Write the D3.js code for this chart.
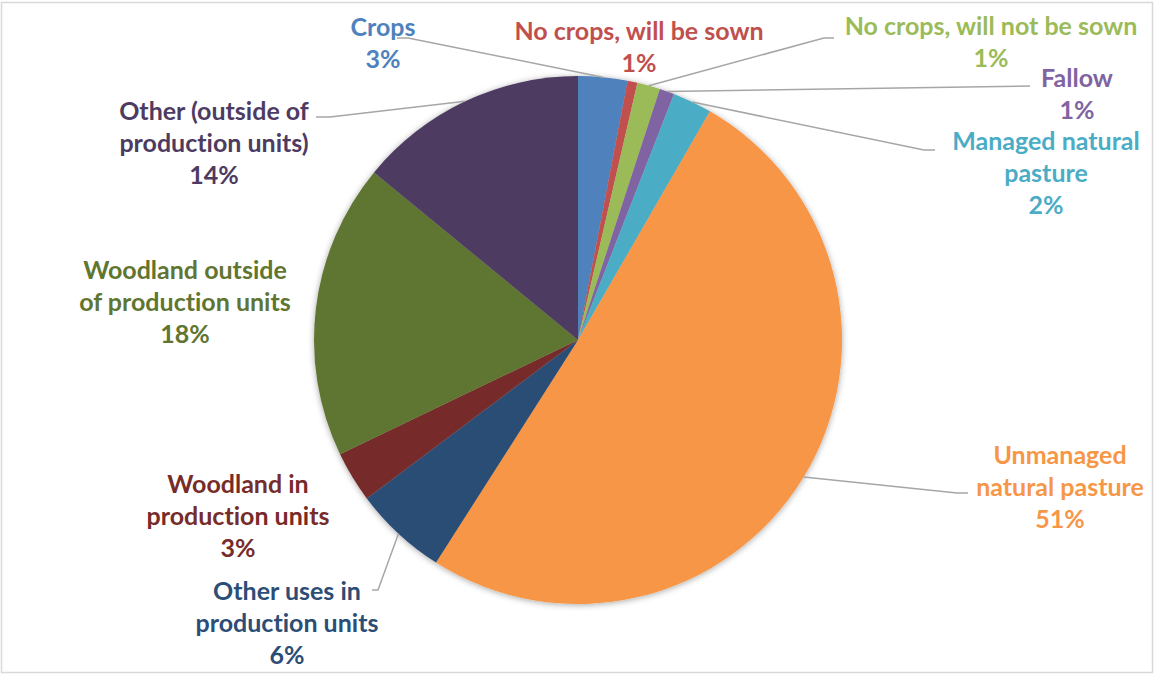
<!DOCTYPE html>
<html>
<head>
<meta charset="utf-8">
<script src="https://cdn.jsdelivr.net/npm/d3@7"></script>
<style>
  html, body { margin: 0; padding: 0; background: #fff; }
  svg { display: block; }
  .lbl { font-family: Lato, "Open Sans", sans-serif; font-weight: 700; font-variant-ligatures: none; }
</style>
</head>
<body>
<svg id="chart" width="1154" height="675"></svg>
<script>
// Land use shares (percent of total area)
const categories = [
  "Crops",
  "No crops, will be sown",
  "No crops, will not be sown",
  "Fallow",
  "Managed natural pasture",
  "Unmanaged natural pasture",
  "Other uses in production units",
  "Woodland in production units",
  "Woodland outside of production units",
  "Other (outside of production units)"
];
const shares = [3.0, 0.6, 1.4, 0.9, 2.4, 50.5, 5.7, 3.1, 18.0, 14.0];
const sliceColors = [
  "#4F81BD", "#C0504D", "#9BBB59", "#8064A2", "#4BACC6",
  "#F79646", "#2C4D75", "#772C2A", "#5F7530", "#4D3B62"
];

// How each label is broken into lines
const labelLines = [
  ["Crops"],
  ["No crops, will be sown"],
  ["No crops, will not be sown"],
  ["Fallow"],
  ["Managed natural", "pasture"],
  ["Unmanaged", "natural pasture"],
  ["Other uses in", "production units"],
  ["Woodland in", "production units"],
  ["Woodland outside", "of production units"],
  ["Other (outside of", "production units)"]
];

// Label placement: centre x, first line centre y, and optional leader elbow/end
const labelLayout = [
  { x: 383, y: 27, elbow: [408, 38], end: [397, 38] },
  { x: 639, y: 31 },
  { x: 991, y: 26, elbow: [824, 38], end: [834, 38] },
  { x: 1077, y: 78, elbow: [1030, 86], end: [1030, 86] },
  { x: 1046, y: 141, elbow: [924, 150], end: [935, 150] },
  { x: 1060, y: 455, elbow: [957, 493], end: [968, 493] },
  { x: 287, y: 591, elbow: [378, 590], end: [372, 590] },
  { x: 238, y: 484 },
  { x: 185, y: 270 },
  { x: 214, y: 111, elbow: [330, 117], end: [316, 117] }
];

const W = 1154, H = 675;
const cx = 578, cy = 340, R = 264;
const lineGap = 32;
const fontSize = 25;

const svg = d3.select("#chart");

// chart frame
svg.append("rect")
  .attr("x", 1.5).attr("y", 2.5)
  .attr("width", 1151).attr("height", 670)
  .attr("fill", "#fff")
  .attr("stroke", "#d9d9d9")
  .attr("stroke-width", 1.5);

const defs = svg.append("defs");
const shadow = defs.append("filter")
  .attr("id", "pieShadow")
  .attr("x", "-10%").attr("y", "-10%")
  .attr("width", "120%").attr("height", "120%");
shadow.append("feDropShadow")
  .attr("dx", 0).attr("dy", 1)
  .attr("stdDeviation", 3)
  .attr("flood-color", "#000")
  .attr("flood-opacity", 0.35);

const total = d3.sum(shares);
const pie = d3.pie().sort(null).value(d => d)(shares);
const arc = d3.arc().innerRadius(0).outerRadius(R);
const pct = d3.format(".0%");

const g = svg.append("g").attr("transform", `translate(${cx},${cy})`);
g.append("g")
  .attr("filter", "url(#pieShadow)")
  .selectAll("path")
  .data(pie)
  .join("path")
  .attr("d", arc)
  .attr("fill", (d, i) => sliceColors[i]);

// leader lines from the slice edge to the label
const edge = d => {
  const a = (d.startAngle + d.endAngle) / 2;
  return [cx + R * Math.sin(a), cy - R * Math.cos(a)];
};
const leaders = pie.map((d, i) => ({ d, i, L: labelLayout[i] })).filter(o => o.L.elbow);
svg.append("g").selectAll("polyline")
  .data(leaders)
  .join("polyline")
  .attr("points", o => [edge(o.d), o.L.elbow, o.L.end].map(p => p.join(",")).join(" "))
  .attr("fill", "none")
  .attr("stroke", "#a6a6a6")
  .attr("stroke-width", 1.5);

// labels: name lines followed by the percentage
const labels = svg.append("g").selectAll("text")
  .data(pie)
  .join("text")
  .attr("class", "lbl")
  .attr("text-anchor", "middle")
  .attr("font-size", fontSize)
  .attr("fill", (d, i) => sliceColors[i]);

labels.each(function(d, i) {
  const L = labelLayout[i];
  const lines = labelLines[i].concat([pct(d.value / total)]);
  d3.select(this).selectAll("tspan")
    .data(lines)
    .join("tspan")
    .attr("x", L.x)
    .attr("y", (t, k) => L.y + k * lineGap)
    .attr("dy", "0.35em")
    .text(t => t);
});
</script>
</body>
</html>
